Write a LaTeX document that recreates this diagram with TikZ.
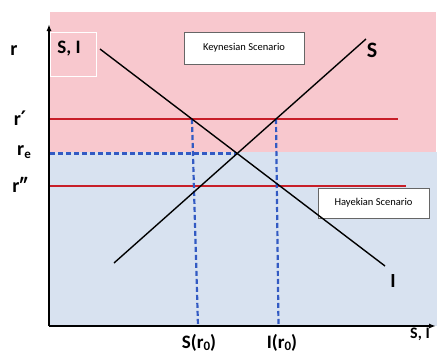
\documentclass[tikz,border=0pt]{standalone}
\usepackage{fontspec}
\setmainfont{Carlito}
\newfontfamily\symfont{DejaVu Sans}
\usetikzlibrary{arrows.meta}
\definecolor{pinkbg}{RGB}{248,200,206}
\definecolor{bluebg}{RGB}{216,226,240}
\definecolor{redline}{RGB}{200,30,40}
\definecolor{bluedash}{RGB}{50,90,195}
\begin{document}
\begin{tikzpicture}[x=1pt,y=-1pt,
  axis/.style={line width=1.6pt,-{Latex[length=7pt,width=5pt]}},
  curve/.style={line width=1.4pt},
  redln/.style={redline,line width=1.3pt},
  bluedashed/.style={bluedash,line width=2.2pt,dash pattern=on 5pt off 3pt},
  lbl/.style={font=\bfseries\fontsize{20}{22}\selectfont,inner sep=0pt},
  sclbl/.style={font=\fontsize{10.5}{12}\selectfont,draw=gray!80!black,fill=white,line width=0.6pt,inner sep=0pt}
]
\useasboundingbox (0,0) rectangle (437,357);
\fill[pinkbg] (50,12) rectangle (436,152);
\fill[bluebg] (50,152) rectangle (437,326);
% S, I box
\node[draw=white,line width=0.8pt,minimum width=46pt,minimum height=44pt,inner sep=0pt] (sibox) at (73,54) {};
\node[lbl,font=\bfseries\fontsize{19}{21}\selectfont] (silbl) at (69,49) {S, I};
% scenario boxes
\node[sclbl,minimum width=120pt,minimum height=32pt] (keyn) at (244,48) {Keynesian Scenario};
\node[sclbl,minimum width=111pt,minimum height=30pt] (hayek) at (373.5,203) {Hayekian Scenario};
% curves
\coordinate (S1) at (114,263);
\coordinate (S2) at (366,39);
\coordinate (I1) at (100,49);
\coordinate (I2) at (385,266);
\coordinate (rp) at (50,119);
\coordinate (rpe) at (398,119);
\coordinate (rpp) at (50,186);
\coordinate (rppe) at (406,186);
\coordinate (E) at (intersection of S1--S2 and I1--I2);
\coordinate (Ia) at (intersection of I1--I2 and rp--rpe);
\coordinate (Sa) at (intersection of S1--S2 and rp--rpe);
\coordinate (O) at (49,326);
\coordinate (ytop) at (49,24);
\coordinate (xend) at (436,326);
\coordinate (Sbot) at (198,326);
\coordinate (Ibot) at (278.5,326);
% horizontal lines
\draw[redln] (rp) -- (rpe);
\draw[redln] (rpp) -- (rppe);
\draw[bluedashed] (rpp |- E) -- (E);
\draw[bluedashed] (Ia) -- (Sbot);
\draw[bluedashed] (Sa) -- (Ibot);
\draw[curve] (S1) -- (S2);
\draw[curve] (I1) -- (I2);
% axes
\draw[axis] (O) -- (ytop);
\draw[axis] (O) -- (xend);
% labels
\node[lbl] (rlbl) at (14,51) {r};
\node[lbl] (rplbl) at (20,118) {r{\symfont\bfseries\fontsize{20}{22}\selectfont ′}};
\node[lbl] (relbl) at (24,152) {r\raisebox{-3pt}{\fontsize{13}{14}\selectfont e}};
\node[lbl] (rpplbl) at (20,185) {r″};
\node[lbl,font=\bfseries\fontsize{22}{24}\selectfont] (Slbl) at (372,50) {S};
\node[lbl] (Ilbl) at (393,281) {I};
\node[lbl,font=\bfseries\fontsize{19}{21}\selectfont] (Sr0lbl) at (199,343) {S(r\raisebox{-2pt}{\fontsize{13}{14}\selectfont 0})};
\node[lbl,font=\bfseries\fontsize{19}{21}\selectfont] (Ir0lbl) at (282,343) {I(r\raisebox{-2pt}{\fontsize{13}{14}\selectfont 0})};
\node[lbl,font=\bfseries\fontsize{16}{18}\selectfont] (xlbl) at (420,334) {S, I};
\end{tikzpicture}
\end{document}
